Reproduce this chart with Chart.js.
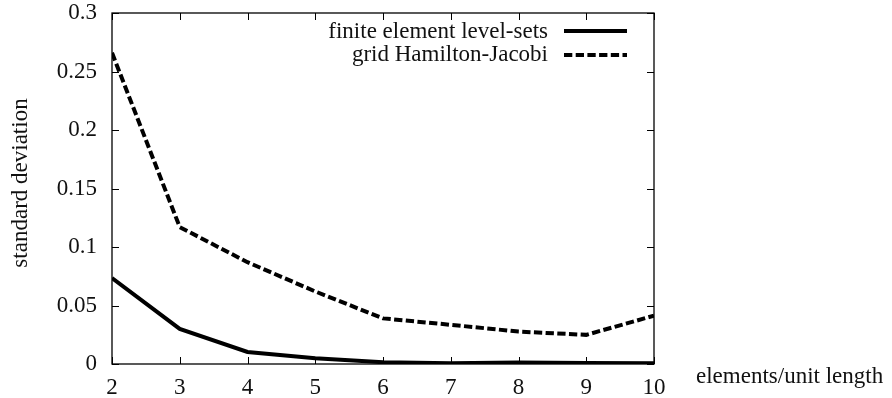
<!DOCTYPE html>
<html>
<head>
<meta charset="utf-8">
<script src="https://cdn.jsdelivr.net/npm/chart.js@4"></script>
<style>
  html, body { margin: 0; padding: 0; background: #fff; }
  #wrap { width: 892px; height: 398px; }
</style>
</head>
<body>
<div id="wrap"><canvas id="myChart" width="892" height="398"></canvas></div>
<script>
// chart data
const elementsPerLength = [2, 3, 4, 5, 6, 7, 8, 9, 10];
const finiteElementLevelSets = [0.0735, 0.030, 0.0103, 0.0049, 0.0015, 0.0006, 0.0012, 0.0009, 0.0006];
const gridHamiltonJacobi = [0.266, 0.117, 0.087, 0.062, 0.039, 0.0335, 0.0277, 0.0249, 0.0413];
const seriesLabels = ['finite element level-sets', 'grid Hamilton-Jacobi'];
const xTitle = 'elements/unit length';
const yTitle = 'standard deviation';

const FONT = "'Liberation Serif', 'Times New Roman', serif";
const INK = '#111';

/**
 * gnuplot style frame: box around plot, ticks inside on all four sides,
 * legend with text on the left and line sample on the right, axis titles.
 */
const gnuplotFrame = {
    id: 'gnuplotFrame',
    afterDraw(chart) {
        const ctx = chart.ctx;
        const area = chart.chartArea;
        const xs = chart.scales.x;
        const ys = chart.scales.y;
        const tick = 7;

        ctx.save();
        ctx.strokeStyle = '#000';
        ctx.lineWidth = 1;

        // ticks
        ctx.beginPath();
        xs.ticks.forEach(t => {
            const px = Math.round(xs.getPixelForValue(t.value)) + 0.5;
            ctx.moveTo(px, area.bottom);
            ctx.lineTo(px, area.bottom - tick);
            ctx.moveTo(px, area.top);
            ctx.lineTo(px, area.top + tick);
        });
        ys.ticks.forEach(t => {
            const py = Math.round(ys.getPixelForValue(t.value)) + 0.5;
            ctx.moveTo(area.left, py);
            ctx.lineTo(area.left + tick, py);
            ctx.moveTo(area.right, py);
            ctx.lineTo(area.right - tick, py);
        });
        ctx.stroke();

        // frame
        ctx.lineWidth = 1.3;
        ctx.strokeRect(area.left, area.top, area.right - area.left, area.bottom - area.top);

        // legend
        ctx.font = '23px ' + FONT;
        ctx.fillStyle = INK;
        ctx.textAlign = 'right';
        ctx.textBaseline = 'alphabetic';
        const textRows = [38, 60.5];
        const sampleRows = [31, 55];
        chart.data.datasets.forEach((ds, i) => {
            ctx.fillText(ds.label, 548, textRows[i]);
            ctx.save();
            ctx.strokeStyle = ds.borderColor;
            ctx.lineWidth = ds.borderWidth;
            ctx.setLineDash(ds.borderDash || []);
            ctx.beginPath();
            ctx.moveTo(564, sampleRows[i]);
            ctx.lineTo(627, sampleRows[i]);
            ctx.stroke();
            ctx.restore();
        });

        // x title, to the right of the plot
        ctx.textAlign = 'left';
        ctx.fillText(xTitle, 696, 383);

        // y title, rotated
        ctx.save();
        ctx.translate(27, 183);
        ctx.rotate(-Math.PI / 2);
        ctx.textAlign = 'center';
        ctx.fillText(yTitle, 0, 0);
        ctx.restore();

        ctx.restore();
    }
};

document.addEventListener('DOMContentLoaded', function() {
    const ctx = document.getElementById('myChart').getContext('2d');
    new Chart(ctx, {
        type: 'line',
        data: {
            datasets: [{
                label: seriesLabels[0],
                data: elementsPerLength.map((x, i) => ({ x: x, y: finiteElementLevelSets[i] })),
                borderColor: '#000',
                borderWidth: 4,
                pointRadius: 0,
                tension: 0
            }, {
                label: seriesLabels[1],
                data: elementsPerLength.map((x, i) => ({ x: x, y: gridHamiltonJacobi[i] })),
                borderColor: '#000',
                borderWidth: 4,
                borderDash: [8.3, 3.4],
                pointRadius: 0,
                tension: 0
            }]
        },
        options: {
            responsive: false,
            animation: false,
            layout: { padding: { top: 13, right: 238, left: 0, bottom: 0 } },
            plugins: {
                legend: { display: false },
                tooltip: { enabled: false }
            },
            scales: {
                x: {
                    type: 'linear',
                    min: 2,
                    max: 10,
                    grid: { display: false, drawTicks: false },
                    border: { display: false },
                    ticks: {
                        stepSize: 1,
                        padding: 10,
                        color: INK,
                        font: { family: FONT, size: 23 },
                        maxRotation: 0
                    },
                    afterFit(scale) {
                        scale.height = 34;
                        scale.paddingLeft = 0;
                        scale.paddingRight = 0;
                    }
                },
                y: {
                    min: 0,
                    max: 0.3,
                    grid: { display: false, drawTicks: false },
                    border: { display: false },
                    ticks: {
                        stepSize: 0.05,
                        padding: 15,
                        color: INK,
                        font: { family: FONT, size: 23 },
                        callback: v => String(Math.round(v * 100) / 100)
                    },
                    afterFit(scale) {
                        scale.width = 112;
                        scale.paddingTop = 0;
                        scale.paddingBottom = 0;
                    }
                }
            }
        },
        plugins: [gnuplotFrame]
    });
});
</script>
</body>
</html>
